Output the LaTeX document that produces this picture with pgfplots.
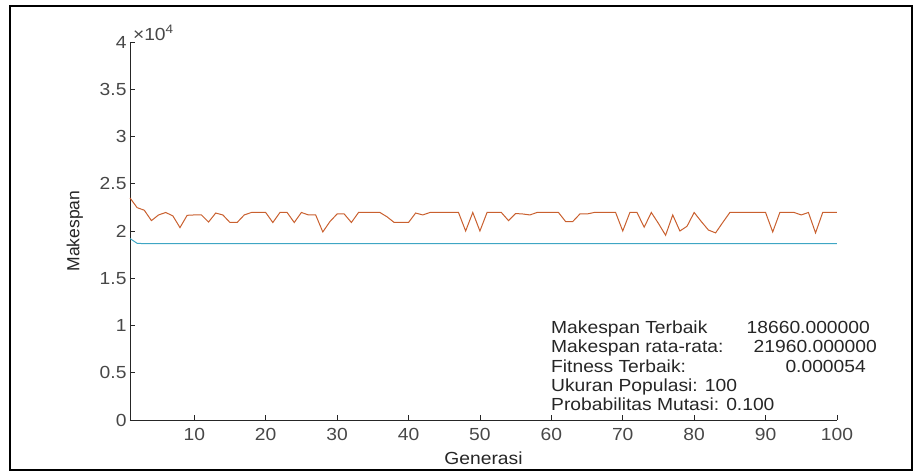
\documentclass[border=0pt]{standalone}
\usepackage{pgfplots}
\usepackage{pgfplotstable}
\pgfplotsset{compat=1.18}
\usetikzlibrary{calc}
\usepackage{fontspec}
\setmainfont{Liberation Sans}[FakeStretch=1.1]
\newfontfamily\labfont{Liberation Sans}
\definecolor{axgray}{HTML}{262626}
\definecolor{mred}{HTML}{C9602F}
\definecolor{mblue}{HTML}{3EA6C4}
\pgfplotstableread{
g v
1 23500
2 22470
3 22200
4 21100
5 21700
6 21960
7 21600
8 20360
9 21660
10 21700
11 21700
12 20950
13 21900
14 21700
15 20900
16 20900
17 21700
18 21960
19 21960
20 21960
21 20900
22 21960
23 21960
24 20900
25 21960
26 21700
27 21700
28 19900
29 21000
30 21800
31 21800
32 20900
33 21960
34 21960
35 21960
36 21960
37 21500
38 20900
39 20900
40 20900
41 21900
42 21700
43 21960
44 21960
45 21960
46 21960
47 21960
48 20000
49 21960
50 20000
51 21960
52 21960
53 21960
54 21100
55 21850
56 21800
57 21700
58 21960
59 21960
60 21960
61 21960
62 21000
63 21000
64 21800
65 21800
66 21960
67 21960
68 21960
69 21960
70 20000
71 21960
72 21960
73 20400
74 21960
75 20800
76 19550
77 21700
78 20000
79 20500
80 21960
81 21000
82 20100
83 19800
84 20900
85 21960
86 21960
87 21960
88 21960
89 21960
90 21960
91 19900
92 21960
93 21960
94 21960
95 21700
96 21960
97 19800
98 21960
99 21960
100 21960
}\redData
\pgfplotstableread{
g v
1 19200
2 18700
3 18660
100 18660
}\blueData
\begin{document}
\begin{tikzpicture}[x=1pt,y=1pt]
\begin{axis}[
  name=ax,
  scale only axis, width=707pt, height=378pt,
  xmin=1, xmax=100, ymin=0, ymax=40000,
  axis x line*=bottom, axis y line*=left,
  axis line style={axgray, line width=0.8pt, -},
  tick align=inside, major tick length=5pt,
  tick style={axgray, line width=0.8pt},
  xtick={10,20,...,100}, xticklabels={10,20,30,40,50,60,70,80,90,100},
  ytick={0,5000,...,40000}, yticklabels={0,0.5,1,1.5,2,2.5,3,3.5,4},
  scaled y ticks=false,
  ticklabel style={font=\fontsize{17.5}{19.5}\selectfont, text=axgray!85},
  xticklabel style={yshift=-5pt},
  xlabel={Generasi}, ylabel={Makespan},
  xlabel style={at={(axis description cs:0.5,-0.1)}, anchor=center, font=\fontsize{17.5}{19.5}\selectfont, text=axgray},
  ylabel style={at={(axis description cs:-0.078,0.5)}, anchor=center, font=\labfont\fontsize{17.5}{19.5}\selectfont, text=axgray},
  clip=false,
]
\addplot[mred, line width=1pt] table[x=g, y=v] {\redData};
\addplot[mblue, line width=1pt] table[x=g, y=v] {\blueData};
\node[anchor=west, inner sep=0pt, font=\fontsize{17.5}{19.5}\selectfont, text=axgray!85] at (axis description cs:0.004,1.024) {×10\textsuperscript{4}};
\end{axis}
\pgfresetboundingbox
\begin{scope}[shift={($(ax.south west)+(-130pt,-52pt)$)}]
\useasboundingbox (0,0) rectangle (914,472);
\draw[line width=2.5pt] (10,2) rectangle (912,466);
\begin{scope}[every node/.style={inner sep=0pt, font=\fontsize{17.5}{19.5}\selectfont, text=black!85}]
\node[anchor=base west] at (551,139) {Makespan Terbaik};
\node[anchor=base east] at (870,139) {18660.000000};
\node[anchor=base west] at (551,120) {Makespan rata-rata:};
\node[anchor=base east] at (877,120) {21960.000000};
\node[anchor=base west] at (551,100) {Fitness Terbaik:};
\node[anchor=base east] at (866,100) {0.000054};
\node[anchor=base west] at (551,81) {Ukuran Populasi: 100};
\node[anchor=base west] at (551,62) {Probabilitas Mutasi: 0.100};
\end{scope}
\end{scope}
\end{tikzpicture}
\end{document}
